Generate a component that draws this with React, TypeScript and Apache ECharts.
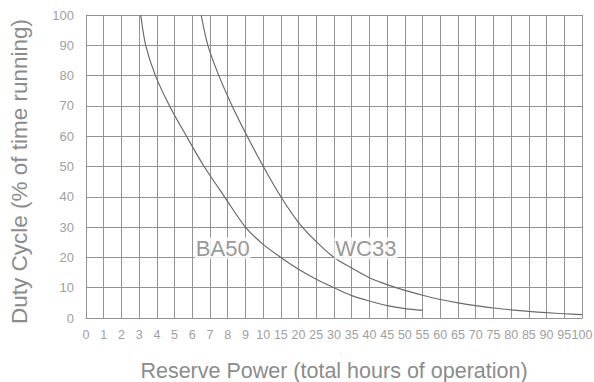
import React, { useEffect, useRef } from "react";
import * as echarts from "echarts";

const xTickLabels = ["0","1","2","3","4","5","6","7","8","9","10","15","20","25","30","35","40","45","50","55","60","65","70","75","80","85","90","95","100"];
const yTicks = [0, 10, 20, 30, 40, 50, 60, 70, 80, 90, 100];

const ba50Hours = [3.09, 3.37, 3.92, 4.72, 5.67, 6.67, 7.82, 9.0, 10, 15, 20, 25, 30, 35, 40, 45, 50, 55];
const ba50Duty = [100, 90, 80, 70, 60, 50, 40, 30, 24.3, 20, 16.1, 12.8, 10, 7.4, 5.6, 4.1, 3.1, 2.5];

const wc33Hours = [6.5, 6.88, 7.5, 8.25, 9.1, 10.05, 15, 20, 25, 30, 35, 40, 45, 50, 55, 60, 65, 70, 75, 80, 85, 90, 95, 100];
const wc33Duty = [100, 90, 80, 70, 60, 50, 40, 31.5, 25.2, 20, 16.5, 13.3, 11.0, 9.1, 7.5, 6.1, 5.0, 4.1, 3.3, 2.7, 2.2, 1.75, 1.4, 1.1];

const seriesNames = ["BA50", "WC33"];
const labelHours = [7.72, 39];
const labelDuty = [23.0, 23.0];

// piecewise axis: 0..10 step 1, then 15..100 step 5, evenly spaced ticks
const toIdx = (h: number) => (h <= 10 ? h : 10 + (h - 10) / 5);

const FONT = "'Liberation Sans', Arial, sans-serif";
const GRID_COLOR = "#939393";
const LINE_COLOR = "#6a6a6a";

export default function App() {
  const ref = useRef<HTMLDivElement>(null);
  useEffect(() => {
    if (!ref.current) return;
    const chart = echarts.init(ref.current, undefined, { renderer: "svg" });
    const mk = (hs: number[], ds: number[]) => hs.map((h, i) => [toIdx(h), ds[i]]);
    chart.setOption({
      animation: false,
      backgroundColor: "#fff",
      grid: { left: 86, right: 12, top: 15, bottom: 64, containLabel: false, outerBoundsMode: "none" },
      xAxis: {
        type: "value",
        min: 0,
        max: xTickLabels.length - 1,
        interval: 1,
        name: "Reserve Power (total hours of operation)",
        nameLocation: "middle",
        nameGap: 42,
        nameTextStyle: { color: "#8c8c8c", fontSize: 21.5, fontFamily: FONT },
        axisLine: { show: true, lineStyle: { color: GRID_COLOR, width: 1 } },
        axisTick: { show: false },
        axisLabel: {
          color: "#a0a0a0",
          fontSize: 12.5,
          fontFamily: FONT,
          margin: 10,
          hideOverlap: false,
          showMinLabel: true,
          showMaxLabel: true,
          formatter: (v: number) => xTickLabels[Math.round(v)] ?? "",
        },
        splitLine: { show: true, lineStyle: { color: GRID_COLOR, width: 1 } },
      },
      yAxis: {
        type: "value",
        min: yTicks[0],
        max: yTicks[yTicks.length - 1],
        interval: 10,
        name: "Duty Cycle (% of time running)",
        nameLocation: "middle",
        nameGap: 55,
        nameTextStyle: { color: "#8c8c8c", fontSize: 22.5, fontFamily: FONT, padding: [0, 10, 0, 0] },
        axisLine: { show: true, lineStyle: { color: GRID_COLOR, width: 1 } },
        axisTick: { show: false },
        axisLabel: { color: "#a0a0a0", fontSize: 13, fontFamily: FONT, margin: 12 },
        splitLine: { show: true, lineStyle: { color: GRID_COLOR, width: 1 } },
      },
      series: [
        {
          name: seriesNames[0],
          type: "line",
          data: mk(ba50Hours, ba50Duty),
          smooth: 0.3,
          showSymbol: false,
          lineStyle: { color: LINE_COLOR, width: 1.2 },
        },
        {
          name: seriesNames[1],
          type: "line",
          data: mk(wc33Hours, wc33Duty),
          smooth: 0.3,
          showSymbol: false,
          lineStyle: { color: LINE_COLOR, width: 1.2 },
        },
        {
          type: "scatter",
          symbolSize: 0,
          z: 5,
          data: seriesNames.map((n, i) => ({ name: n, value: [toIdx(labelHours[i]), labelDuty[i]] })),
          label: {
            show: true,
            position: "inside",
            formatter: (p: any) => p.name,
            color: "#7d7d7d",
            fontSize: 22,
            fontFamily: FONT,
            backgroundColor: "#fff",
            padding: [0, 1],
          },
        },
      ],
    });
    return () => chart.dispose();
  }, []);
  return (
    <div
      ref={ref}
      style={{ position: "absolute", left: 0, top: 0, width: 594, height: 382 }}
    />
  );
}
